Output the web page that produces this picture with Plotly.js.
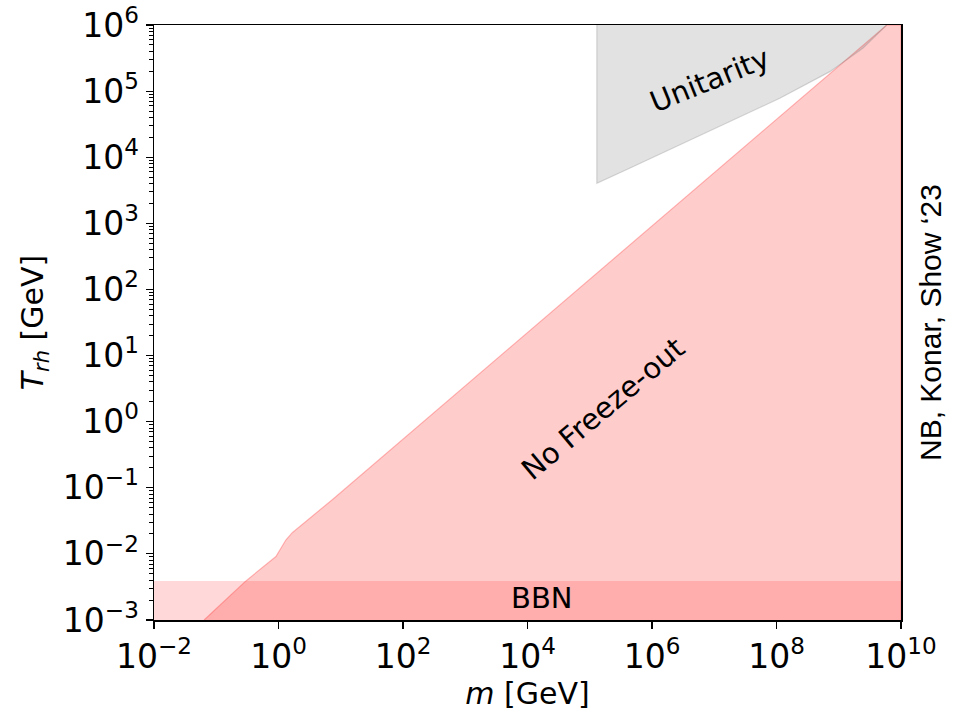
<!DOCTYPE html>
<html>
<head>
<meta charset="utf-8">
<script src="https://cdn.plot.ly/plotly-3.0.1.min.js"></script>
<style>html,body{margin:0;padding:0;background:#fff;}#plot{width:954px;height:715px;}</style>
</head>
<body>
<div id="plot"></div>
<script>
// No freeze-out boundary (m [GeV], T_rh [GeV])
const noFreezeM = [0.0637, 0.299, 0.908, 1.31, 1.66, 7.29, 5.9e9];
const noFreezeT = [1e-3, 3.9e-3, 9.1e-3, 1.62e-2, 2.09e-2, 6.6e-2, 1e6];
// Unitarity lower boundary
const unitM = [1.3e5, 1.3e5, 4.37e5, 2.78e6, 1.77e7, 1.13e8, 7.19e8, 2.44e9, 5.52e9, 5.9e9];
const unitT = [1e6, 4.04e3, 6.8e3, 1.53e4, 3.45e4, 7.8e4, 1.97e5, 4.45e5, 9.4e5, 1e6];
// BBN bound
const bbnT = 3.9e-3;
const mMin = 1e-2, mMax = 1e10, tMin = 1e-3, tMax = 1e6;
// tick labels
const xTickVals = [1e-2, 1e0, 1e2, 1e4, 1e6, 1e8, 1e10];
const xTickText = ['10<sup>−2</sup>', '10<sup>0</sup>', '10<sup>2</sup>', '10<sup>4</sup>', '10<sup>6</sup>', '10<sup>8</sup>', '10<sup>10</sup>'];
const yTickVals = [1e-3, 1e-2, 1e-1, 1e0, 1e1, 1e2, 1e3, 1e4, 1e5, 1e6];
const yTickText = ['10<sup>−3</sup>', '10<sup>−2</sup>', '10<sup>−1</sup>', '10<sup>0</sup>', '10<sup>1</sup>', '10<sup>2</sup>', '10<sup>3</sup>', '10<sup>4</sup>', '10<sup>5</sup>', '10<sup>6</sup>'];

const red = {
  x: noFreezeM.concat([mMax, mMax]),
  y: noFreezeT.concat([tMax, tMin]),
  mode: 'lines', fill: 'toself',
  fillcolor: 'rgba(255,0,0,0.2)',
  line: {color: 'rgba(255,0,0,0.25)', width: 1.2},
  hoverinfo: 'skip', showlegend: false
};
const gray = {
  x: unitM, y: unitT,
  mode: 'lines', fill: 'toself',
  fillcolor: 'rgba(128,128,128,0.23)',
  line: {color: 'rgba(128,128,128,0.3)', width: 1.2},
  hoverinfo: 'skip', showlegend: false
};
const bbn = {
  x: [mMin, mMax, mMax, mMin],
  y: [tMin, tMin, bbnT, bbnT],
  mode: 'lines', fill: 'toself',
  fillcolor: 'rgba(255,0,0,0.15)',
  line: {color: 'rgba(255,0,0,0.0)', width: 0},
  hoverinfo: 'skip', showlegend: false
};

const tickFont = {family: 'DejaVu Sans', size: 33, color: '#000'};
const layout = {
  width: 954, height: 715,
  margin: {l: 154, r: 53, t: 25, b: 95},
  paper_bgcolor: '#fff', plot_bgcolor: '#fff',
  showlegend: false,
  xaxis: {
    type: 'log', range: [-2.0001, 10.0001],
    tickmode: 'array', tickvals: xTickVals, ticktext: xTickText,
    showgrid: false, zeroline: false,
    showline: true, linecolor: '#000', linewidth: 1.5, mirror: true,
    ticks: 'outside', ticklen: 7, tickwidth: 1.2, tickcolor: '#000',
    tickfont: tickFont,
    title: {text: '<i>m</i> [GeV]', font: {family: 'DejaVu Sans', size: 30, color: '#000'}, standoff: 4}
  },
  yaxis: {
    type: 'log', range: [-3.0001, 6.0001],
    tickmode: 'array', tickvals: yTickVals, ticktext: yTickText,
    showgrid: false, zeroline: false,
    showline: true, linecolor: '#000', linewidth: 1.5, mirror: true,
    ticks: 'outside', ticklen: 7, tickwidth: 1.2, tickcolor: '#000',
    minor: {ticks: 'outside', ticklen: 4, tickwidth: 1, tickcolor: '#000', dtick: 'D1', showgrid: false},
    tickfont: tickFont,
    title: {text: '<i>T</i><sub><i>rh</i></sub> [GeV]', font: {family: 'DejaVu Sans', size: 30, color: '#000'}, standoff: 10}
  },
  annotations: [
    {x: 6.93, y: 5.17, xref: 'x', yref: 'y', text: 'Unitarity', showarrow: false, textangle: -22,
     font: {family: 'DejaVu Sans', size: 29, color: '#000'}},
    {x: 5.205, y: 0.199, xref: 'x', yref: 'y', text: 'No Freeze-out', showarrow: false, textangle: -40,
     font: {family: 'DejaVu Sans', size: 29, color: '#000'}},
    {x: 4.228, y: -2.66, xref: 'x', yref: 'y', text: 'BBN', showarrow: false,
     font: {family: 'DejaVu Sans', size: 29, color: '#000'}},
    {x: 1.0388, y: 0.5008, xref: 'paper', yref: 'paper', xanchor: 'center', yanchor: 'middle', text: 'NB, Konar, Show ‘23', showarrow: false, textangle: -90,
     font: {family: 'Liberation Sans, Arial', size: 30, color: '#000'}}
  ]
};

Plotly.newPlot('plot', [bbn, red, gray], layout, {displayModeBar: false, staticPlot: true});
</script>
</body>
</html>
